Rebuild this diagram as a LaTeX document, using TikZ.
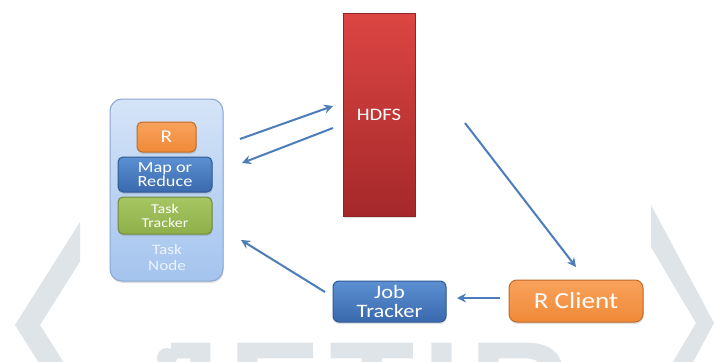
\documentclass[tikz,border=0pt]{standalone}
\usepackage{fontspec}
\newfontfamily\diagfont[FakeStretch=1.18]{Carlito}
\newfontfamily\wmfont{Liberation Sans}
\usetikzlibrary{arrows.meta,shadows}
\definecolor{orTop}{HTML}{F9A25C}
\definecolor{orBot}{HTML}{F08A38}
\definecolor{orBorder}{HTML}{BE6A28}
\definecolor{blTop}{HTML}{5C90D3}
\definecolor{blBot}{HTML}{3A69AD}
\definecolor{blBorder}{HTML}{2F5A92}
\definecolor{grTop}{HTML}{A6C663}
\definecolor{grBot}{HTML}{8FAF4B}
\definecolor{grBorder}{HTML}{6E8A3A}
\definecolor{rdTop}{HTML}{DC4643}
\definecolor{rdBot}{HTML}{A5282A}
\definecolor{rdBorder}{HTML}{8E2424}
\definecolor{tnTop}{HTML}{D5E4F8}
\definecolor{tnBot}{HTML}{A4C4EE}
\definecolor{tnBorder}{HTML}{8AA8D2}
\definecolor{tnText}{HTML}{EEF4FD}
\definecolor{arrowblue}{HTML}{4A7DBA}
\definecolor{wmgray}{HTML}{DEE4E8}
\begin{document}
\begin{tikzpicture}[x=1pt,y=-1pt,
  box/.style={draw, line width=1pt, inner sep=0pt, align=center, text=white,
    drop shadow={shadow xshift=0.5pt, shadow yshift=-2pt, opacity=0.25}},
  orangebox/.style={box, top color=orTop, bottom color=orBot, draw=orBorder},
  bluebox/.style={box, top color=blTop, bottom color=blBot, draw=blBorder},
  greenbox/.style={box, top color=grTop, bottom color=grBot, draw=grBorder},
  redbox/.style={box, top color=rdTop, bottom color=rdBot, draw=rdBorder},
  tnbox/.style={box, top color=tnTop, bottom color=tnBot, draw=tnBorder, rounded corners=12pt},
  arr/.style={draw=arrowblue, line width=2pt, -{Stealth[length=9pt,width=9pt,inset=3pt]}},
  wm/.style={fill=wmgray, draw=none}]
\useasboundingbox (0,0) rectangle (716,362);
\fill[white] (0,0) rectangle (716,362);
% watermark
\begin{scope}
\clip (0,0) rectangle (716,362);
\fill[wm] (80,222) -- (15,325) -- (80,428) -- (80,388.4) -- (40,325) -- (80,261.6) -- cycle;
\fill[wm] (651,205) -- (714,323) -- (651,441) -- (651,399) -- (696,323) -- (651,247) -- cycle;
\fill[wm] (167,358) circle[radius=10];
\node[anchor=base west, inner sep=0pt, text=wmgray, font=\wmfont\bfseries\fontsize{140}{140}\selectfont] (wmtext) at (142,439) {J\hspace{8pt}E\hspace{8pt}T\hspace{8pt}I\hspace{8pt}R};
\end{scope}
% nodes
\node[tnbox, minimum width=113pt, minimum height=182pt] (tasknode) at (166.5,190) {};
\node[orangebox, rounded corners=5pt, minimum width=59pt, minimum height=30pt,
  font=\diagfont\fontsize{18}{18}\selectfont] (r) at (166.5,137) {R};
\node[bluebox, rounded corners=5pt, minimum width=94pt, minimum height=35pt,
  font=\diagfont\fontsize{15.5}{13}\selectfont] (mapred) at (165,174.5) {Map or\\Reduce};
\node[greenbox, rounded corners=5pt, minimum width=94pt, minimum height=37pt,
  font=\diagfont\fontsize{13.5}{14}\selectfont] (tasktracker) at (165,215.5) {Task\\Tracker};
\node[inner sep=0pt, align=center, text=tnText,
  font=\diagfont\fontsize{14.5}{16}\selectfont] (tnlabel) at (167,258) {Task\\Node};
\node[redbox, minimum width=72pt, minimum height=203pt,
  font=\diagfont\fontsize{17.5}{17.5}\selectfont] (hdfs) at (379,114.5) {HDFS};
\node[bluebox, rounded corners=6pt, minimum width=113pt, minimum height=41pt,
  font=\diagfont\fontsize{19}{18.5}\selectfont] (jobtracker) at (389.5,301.5) {Job\\Tracker};
\node[orangebox, rounded corners=8pt, minimum width=134pt, minimum height=42pt,
  font=\diagfont\fontsize{23}{23}\selectfont] (rclient) at (576,301) {R Client};
% connector end points
\coordinate (a1s) at (240,139);
\coordinate (a1e) at (333,106);
\coordinate (a2s) at (333,128);
\coordinate (a2e) at (242,163);
\coordinate (a3s) at (465,123);
\coordinate (a3e) at (576,267);
\coordinate (a4s) at (500,298);
\coordinate (a4e) at (457,298);
\coordinate (a5s) at (325,292);
\coordinate (a5e) at (241,240);
\draw[arr] (a1s) -- (a1e);
\draw[arr] (a2s) -- (a2e);
\draw[arr] (a3s) -- (a3e);
\draw[arr] (a4s) -- (a4e);
\draw[arr] (a5s) -- (a5e);
\end{tikzpicture}
\end{document}
